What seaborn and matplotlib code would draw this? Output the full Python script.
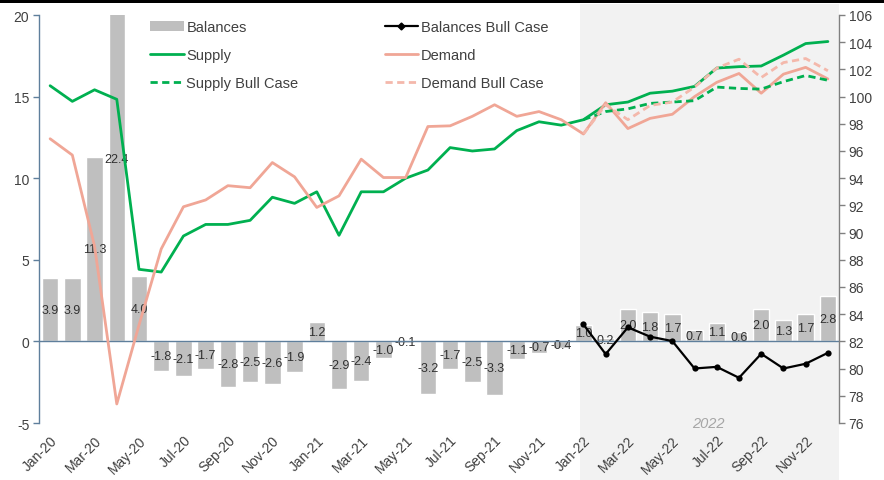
import numpy as np
import pandas as pd
import matplotlib
matplotlib.use("Agg")
import matplotlib.pyplot as plt
import matplotlib.transforms as mtransforms
from matplotlib.patches import Rectangle, Patch
from matplotlib.lines import Line2D
import seaborn as sns

# ---- data -------------------------------------------------------------
months = pd.date_range("2020-01-01", periods=36, freq="MS").strftime("%b-%y").tolist()

balances = [3.9, 3.9, 11.3, 22.4, 4.0, -1.8, -2.1, -1.7, -2.8, -2.5, -2.6, -1.9,
            1.2, -2.9, -2.4, -1.0, -0.1, -3.2, -1.7, -2.5, -3.3, -1.1, -0.7, -0.4,
            1.0, 0.2, 2.0, 1.8, 1.7, 0.7, 1.1, 0.6, 2.0, 1.3, 1.7, 2.8]

supply = [100.8, 99.65, 100.5, 99.8, 87.3, 87.1, 89.75, 90.6, 90.6, 90.9, 92.6, 92.15,
          93.0, 89.8, 93.0, 93.0, 94.0, 94.6, 96.25, 96.0, 96.15, 97.5, 98.15, 97.9,
          98.3, 99.4, 99.6, 100.25, 100.4, 100.75, 102.1, 102.2, 102.25, 103.05, 103.9, 104.05]

demand = [96.9, 95.7, 89.0, 77.4, 83.2, 88.8, 91.9, 92.4, 93.45, 93.3, 95.15, 94.1,
          91.85, 92.7, 95.4, 94.05, 94.05, 97.8, 97.85, 98.55, 99.4, 98.55, 98.9, 98.3,
          97.25, 99.55, 97.65, 98.4, 98.7, 100.0, 101.05, 101.7, 100.25, 101.65, 102.15, 101.3]

# bull-case scenarios cover 2022 only
bull_months = months[24:]
balances_bull = [1.04, -0.78, 0.86, 0.29, 0.02, -1.66, -1.56, -2.23, -0.76, -1.66, -1.37, -0.70]
supply_bull = [98.3, 98.9, 99.1, 99.5, 99.6, 99.7, 100.7, 100.6, 100.55, 101.1, 101.55, 101.2]
demand_bull = [97.25, 99.4, 98.3, 99.35, 99.6, 100.7, 102.1, 102.75, 101.4, 102.5, 102.8, 101.9]

# ---- style ------------------------------------------------------------
sns.set_theme(style="white")
plt.rcParams["font.family"] = ["Liberation Sans", "DejaVu Sans"]

BAR = "#bfbfbf"
GREEN = "#00b050"
SALMON = "#f0a696"
SALMON_LIGHT = "#f4b8ab"
TXT = "#404040"
AXIS_BLUE = "#5f7f9c"
TICK_FS = 10

W, H = 884, 481
fig = plt.figure(figsize=(W / 100, H / 100), dpi=100)
fig.patch.set_facecolor("white")
ax = fig.add_axes([39 / W, 1 - 424 / H, 800 / W, 408 / H])
ax.patch.set_visible(False)

pos = np.arange(len(months))
bull_pos = pos[24:]

df = pd.DataFrame({"month": months, "balance": balances})
sns.barplot(data=df, x="month", y="balance", color=BAR, saturation=1,
            width=0.74, ax=ax, zorder=2)

# value labels centred in each bar
for i, v in enumerate(balances):
    ax.text(i, v / 2, f"{v:.1f}", ha="center", va="center",
            fontsize=9, color="#303030", zorder=3)

sns.lineplot(x=bull_pos, y=balances_bull, color="black", lw=1.6, marker="o",
             markersize=4.5, markeredgewidth=0, ax=ax, zorder=5)

ax.axhline(0, color=AXIS_BLUE, lw=1.0, zorder=4)
ax.set_ylim(-5, 20)
ax.set_xlim(-0.5, len(months) - 0.5)
ax.set_yticks(np.arange(-5, 21, 5))
ax.set_yticklabels([f"{t:d}" for t in np.arange(-5, 21, 5)])
ax.set_xticks(pos[::2])
ax.set_xticklabels(months[::2], rotation=45, ha="right", rotation_mode="anchor")
ax.set_xlabel("")
ax.set_ylabel("")
ax.tick_params(axis="x", length=0, pad=7, labelsize=TICK_FS, labelcolor=TXT)
ax.tick_params(axis="y", left=True, length=4, width=1, color=AXIS_BLUE,
               labelsize=TICK_FS, labelcolor=TXT, pad=3)
for side in ["top", "right", "bottom"]:
    ax.spines[side].set_visible(False)
ax.spines["left"].set_color(AXIS_BLUE)
ax.spines["left"].set_linewidth(1.0)

# ---- right axis: supply / demand ------------------------------------
ax2 = ax.twinx()
sns.lineplot(x=pos, y=supply, color=GREEN, lw=2.0, ax=ax2)
sns.lineplot(x=pos, y=demand, color=SALMON, lw=2.0, ax=ax2)
sns.lineplot(x=bull_pos, y=supply_bull, color=GREEN, lw=2.0, ax=ax2,
             linestyle=(0, (2.6, 1.6)))
sns.lineplot(x=bull_pos, y=demand_bull, color=SALMON_LIGHT, lw=2.0, ax=ax2,
             linestyle=(0, (2.6, 1.6)))
ax2.set_ylim(76, 106)
ax2.set_yticks(np.arange(76, 107, 2))
ax2.set_ylabel("")
ax2.tick_params(axis="y", right=True, length=4, width=1, color="#808080",
                labelsize=TICK_FS, labelcolor=TXT, pad=3)
for side in ["top", "left", "bottom"]:
    ax2.spines[side].set_visible(False)
ax2.spines["right"].set_color("#808080")
ax2.spines["right"].set_linewidth(1.0)

# ---- 2022 forecast shading -------------------------------------------
shade_tr = mtransforms.blended_transform_factory(ax.transData, fig.transFigure)
fig.add_artist(Rectangle((23.85, 0), len(months) - 0.5 - 23.85, 1 - 5 / H,
                         transform=shade_tr, facecolor="#f2f2f2",
                         edgecolor="none", zorder=-1))
ax.text(29.6, -5.0, "2022", ha="center", va="center", fontsize=10.5,
        style="italic", color="#a6a6a6")

# black band along the top edge
fig.add_artist(Rectangle((0, 1 - 4 / H), 1, 4 / H, transform=fig.transFigure,
                         facecolor="black", edgecolor="none", zorder=10))

# ---- legend -----------------------------------------------------------
dash = (0, (2.6, 1.6))
handles = [
    Patch(facecolor=BAR, edgecolor="none"),
    Line2D([], [], color=GREEN, lw=2.0),
    Line2D([], [], color=GREEN, lw=2.0, linestyle=dash),
    Line2D([], [], color="black", lw=1.6, marker="D", markersize=3.5),
    Line2D([], [], color=SALMON, lw=2.0),
    Line2D([], [], color=SALMON_LIGHT, lw=2.0, linestyle=dash),
]
labels = ["Balances", "Supply", "Supply Bull Case",
          "Balances Bull Case", "Demand", "Demand Bull Case"]
fig.legend(handles, labels, ncol=2, loc="upper left",
           bbox_to_anchor=(150 / W, 1 - 21 / H), frameon=False,
           fontsize=10.5, labelcolor=TXT, handlelength=2.3, handleheight=0.7,
           handletextpad=0.2, columnspacing=5.9, labelspacing=0.95,
           borderpad=0, borderaxespad=0)

fig.savefig("out.png", dpi=100)
